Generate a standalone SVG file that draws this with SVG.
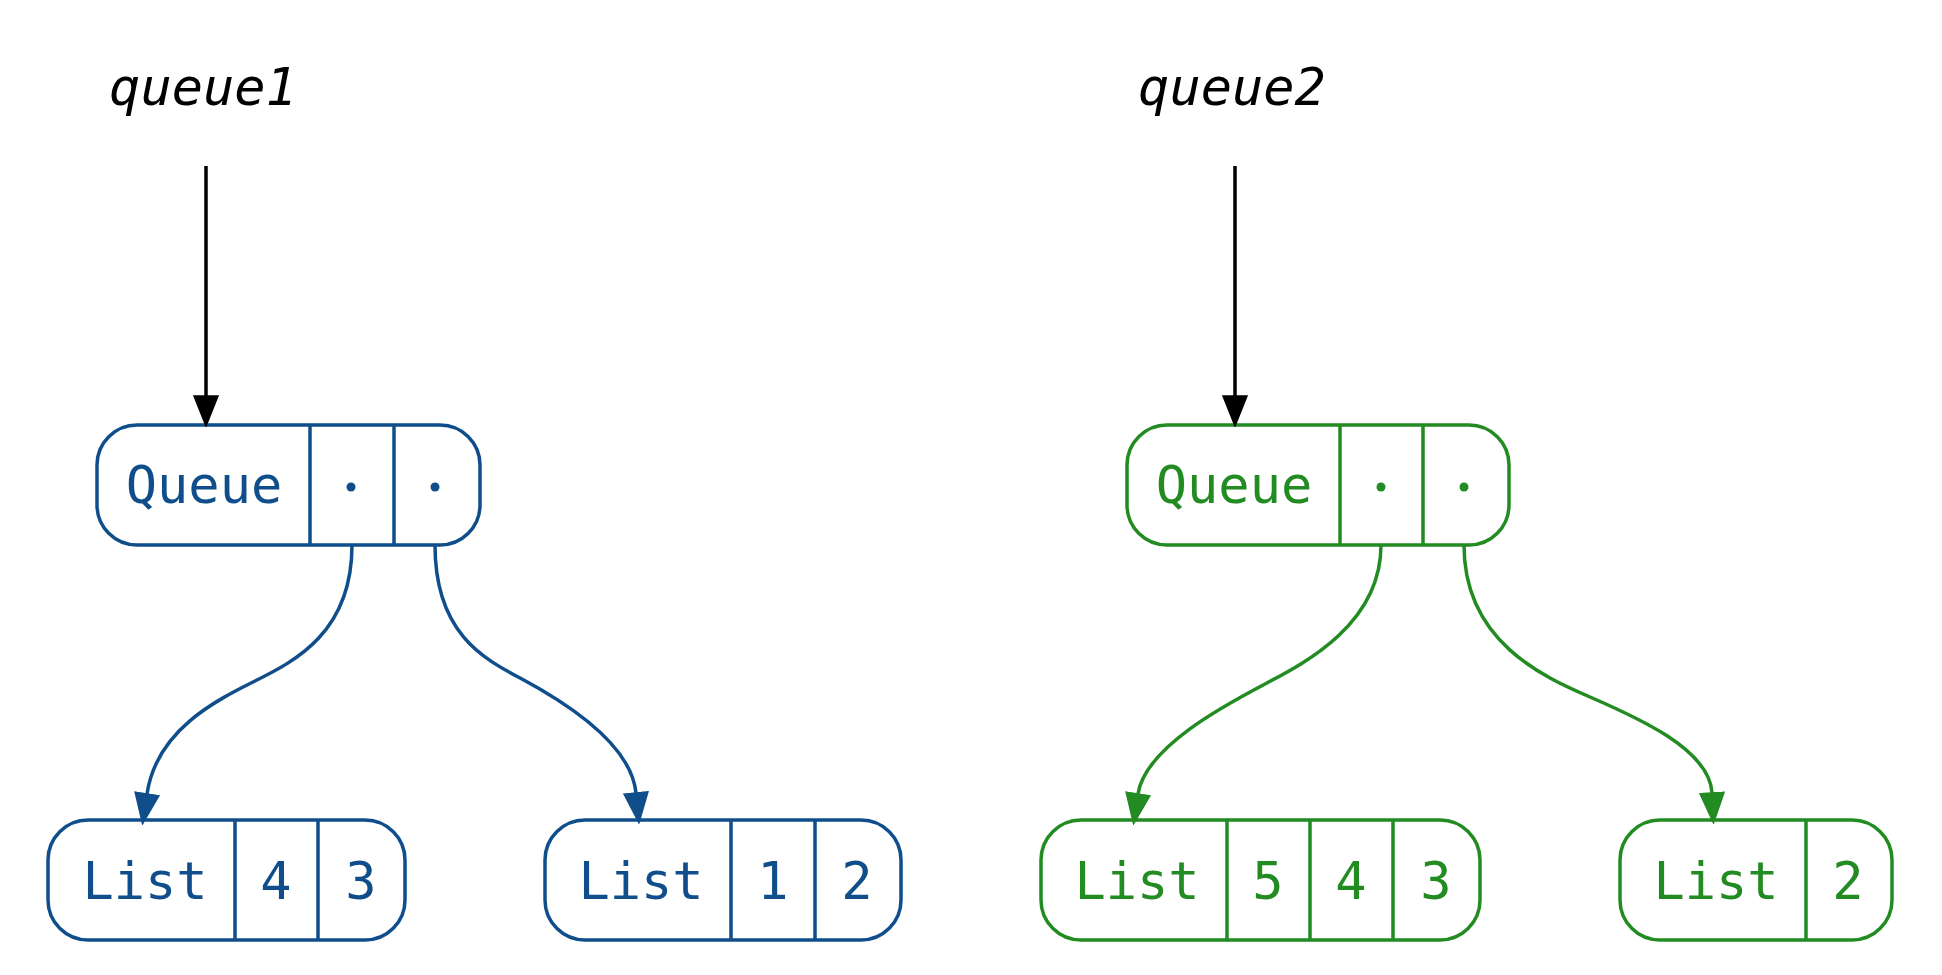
<svg xmlns="http://www.w3.org/2000/svg" width="1942" height="975" viewBox="0 0 1942 975">
<style>
.bg{fill:#ffffff}
.blue{fill:#ffffff;stroke:#104e8b;stroke-width:3.5}
.green{fill:#ffffff;stroke:#228b22;stroke-width:3.5}
.dblue{stroke:#104e8b;stroke-width:3.5}
.dgreen{stroke:#228b22;stroke-width:3.5}
.tblue{fill:#104e8b;font-family:"DejaVu Sans Mono","Liberation Mono",monospace;font-size:52px;text-anchor:middle}
.tgreen{fill:#228b22;font-family:"DejaVu Sans Mono","Liberation Mono",monospace;font-size:52px;text-anchor:middle}
.lbl{fill:#000000;font-family:"DejaVu Sans Mono","Liberation Mono",monospace;font-style:italic;font-size:52px;text-anchor:middle}
.cb{fill:none;stroke:#104e8b;stroke-width:3.5}
.cg{fill:none;stroke:#228b22;stroke-width:3.5}
.ck{fill:none;stroke:#000000;stroke-width:3.5}
</style>
<defs>
<marker id="ab" markerUnits="userSpaceOnUse" markerWidth="32" markerHeight="26" viewBox="-1 -1 32 26" refX="0" refY="12" orient="auto"><path d="M0,0 L30,12 L0,24 z" fill="#104e8b" stroke="#104e8b" stroke-width="1.5"/></marker>
<marker id="ag" markerUnits="userSpaceOnUse" markerWidth="32" markerHeight="26" viewBox="-1 -1 32 26" refX="0" refY="12" orient="auto"><path d="M0,0 L30,12 L0,24 z" fill="#228b22" stroke="#228b22" stroke-width="1.5"/></marker>
<marker id="ak" markerUnits="userSpaceOnUse" markerWidth="32" markerHeight="26" viewBox="-1 -1 32 26" refX="0" refY="12" orient="auto"><path d="M0,0 L30,12 L0,24 z" fill="#000000" stroke="#000000" stroke-width="1.5"/></marker>
</defs>
<rect class="bg" x="0" y="0" width="1942" height="975"/>

<g id="label-queue1"><text class="lbl" x="203" y="105">queue1</text></g>
<g id="label-queue2"><text class="lbl" x="1232" y="105">queue2</text></g>

<g id="queue1">
<rect class="blue" x="97" y="425" width="383" height="120" rx="40" ry="40"/>
<line class="dblue" x1="310" y1="425" x2="310" y2="545"/>
<line class="dblue" x1="394" y1="425" x2="394" y2="545"/>
<text class="tblue" x="204" y="503">Queue</text>
<circle cx="351" cy="487" r="4.5" fill="#104e8b"/>
<circle cx="435" cy="487" r="4.5" fill="#104e8b"/>
</g>

<g id="queue2">
<rect class="green" x="1127" y="425" width="382" height="120" rx="40" ry="40"/>
<line class="dgreen" x1="1340" y1="425" x2="1340" y2="545"/>
<line class="dgreen" x1="1423" y1="425" x2="1423" y2="545"/>
<text class="tgreen" x="1234" y="503">Queue</text>
<circle cx="1381" cy="487" r="4.5" fill="#228b22"/>
<circle cx="1464" cy="487" r="4.5" fill="#228b22"/>
</g>

<g id="list43">
<rect class="blue" x="48" y="820" width="357" height="120" rx="40" ry="40"/>
<line class="dblue" x1="235" y1="820" x2="235" y2="940"/>
<line class="dblue" x1="318" y1="820" x2="318" y2="940"/>
<text class="tblue" x="145" y="899">List</text>
<text class="tblue" x="276" y="899">4</text>
<text class="tblue" x="361" y="899">3</text>
</g>

<g id="list12">
<rect class="blue" x="545" y="820" width="356" height="120" rx="40" ry="40"/>
<line class="dblue" x1="731" y1="820" x2="731" y2="940"/>
<line class="dblue" x1="815" y1="820" x2="815" y2="940"/>
<text class="tblue" x="641" y="899">List</text>
<text class="tblue" x="773" y="899">1</text>
<text class="tblue" x="857" y="899">2</text>
</g>

<g id="list543">
<rect class="green" x="1041" y="820" width="439" height="120" rx="40" ry="40"/>
<line class="dgreen" x1="1227" y1="820" x2="1227" y2="940"/>
<line class="dgreen" x1="1310" y1="820" x2="1310" y2="940"/>
<line class="dgreen" x1="1393" y1="820" x2="1393" y2="940"/>
<text class="tgreen" x="1137" y="899">List</text>
<text class="tgreen" x="1268" y="899">5</text>
<text class="tgreen" x="1351" y="899">4</text>
<text class="tgreen" x="1436" y="899">3</text>
</g>

<g id="list2">
<rect class="green" x="1620" y="820" width="272" height="120" rx="40" ry="40"/>
<line class="dgreen" x1="1806" y1="820" x2="1806" y2="940"/>
<text class="tgreen" x="1716" y="899">List</text>
<text class="tgreen" x="1848" y="899">2</text>
</g>

<g id="connectors">
<path class="ck" d="M206,166 L206,396" marker-end="url(#ak)"/>
<path class="ck" d="M1235,166 L1235,396" marker-end="url(#ak)"/>
<path class="cb" d="M352,545 C352,632.5 295,661 255,681 C215,701 156.6,730.2 147,794" marker-end="url(#ab)"/>
<path class="cb" d="M435,545 C435,632.5 482.6,658 520,678 C542.4,690 630.5,737.1 636,793" marker-end="url(#ab)"/>
<path class="cg" d="M1381,545 C1381,623 1306.8,662 1265,684 C1227,704 1145,747 1138,794" marker-end="url(#ag)"/>
<path class="cg" d="M1464,545 C1464,642 1544,677 1590,697 C1636,717 1709.8,749.1 1712,793" marker-end="url(#ag)"/>
</g>
</svg>
